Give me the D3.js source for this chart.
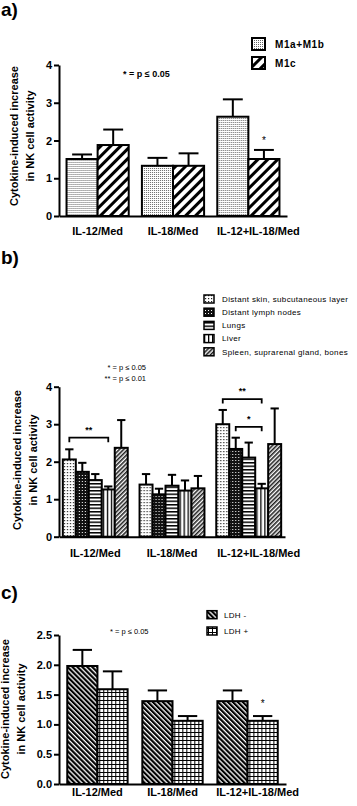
<!DOCTYPE html>
<html>
<head>
<meta charset="utf-8">
<script src="https://cdn.jsdelivr.net/npm/d3@7"></script>
<style>
  body { margin: 0; background: #fff; }
  text { font-family: "Liberation Sans", Arial, sans-serif; fill: #000; }
</style>
</head>
<body>
<script>
const groups = ["IL-12/Med", "IL-18/Med", "IL-12+IL-18/Med"];

// panel a: metastasis stage
const seriesA = ["M1a+M1b", "M1c"];
const m1abMean = [1.51, 1.33, 2.63];
const m1abSem = [0.12, 0.21, 0.46];
const m1cMean = [1.88, 1.33, 1.51];
const m1cSem = [0.41, 0.33, 0.24];

// panel b: metastasis site
const seriesB = ["Distant skin, subcutaneous layer", "Distant lymph nodes", "Lungs", "Liver", "Spleen, suprarenal gland, bones"];
const skinMean = [2.06, 1.39, 3.00];
const skinSem = [0.27, 0.28, 0.38];
const lymphMean = [1.73, 1.13, 2.34];
const lymphSem = [0.24, 0.15, 0.30];
const lungsMean = [1.51, 1.36, 2.11];
const lungsSem = [0.16, 0.29, 0.40];
const liverMean = [1.26, 1.23, 1.29];
const liverSem = [0.08, 0.27, 0.12];
const spleenMean = [2.37, 1.29, 2.47];
const spleenSem = [0.74, 0.33, 0.95];
const sigB = [
  { group: 0, from: 0, to: 3, level: 2.64, label: "**" },
  { group: 2, from: 0, to: 3, level: 3.67, label: "**" },
  { group: 2, from: 1, to: 3, level: 2.93, label: "*" }
];

// panel c: LDH
const seriesC = ["LDH -", "LDH +"];
const ldhNegMean = [1.98, 1.39, 1.39];
const ldhNegSem = [0.27, 0.18, 0.18];
const ldhPosMean = [1.59, 1.06, 1.06];
const ldhPosSem = [0.30, 0.08, 0.08];

const ticksAB = [0, 1, 2, 3, 4];
const ticksC = [0, 0.5, 1.0, 1.5, 2.0, 2.5];

const W = 357, H = 806;
const svg = d3.select("body").append("svg").attr("width", W).attr("height", H);
const defs = svg.append("defs");

function pattern(id, w, h, rot, draw) {
  const p = defs.append("pattern")
    .attr("id", id)
    .attr("patternUnits", "userSpaceOnUse")
    .attr("width", w).attr("height", h);
  if (rot) p.attr("patternTransform", `rotate(${rot})`);
  p.append("rect").attr("width", w).attr("height", h).attr("fill", "#fff");
  draw(p);
}
pattern("fineDots", 2, 2, 0, p => p.append("rect").attr("width", 1).attr("height", 1).attr("fill", "#666"));
pattern("wideSlash", 7, 7, 45, p => p.append("rect").attr("width", 3).attr("height", 7).attr("fill", "#000"));
pattern("sparseDots", 3, 3, 0, p => p.append("rect").attr("x", 1).attr("y", 1).attr("width", 1.2).attr("height", 1.2).attr("fill", "#222"));
pattern("darkDots", 3, 3, 0, p => {
  p.append("rect").attr("width", 3).attr("height", 3).attr("fill", "#111");
  p.append("rect").attr("x", 1).attr("y", 1).attr("width", 1).attr("height", 1).attr("fill", "#fff");
});
pattern("hLines", 4, 3.5, 0, p => p.append("rect").attr("width", 4).attr("height", 1.5).attr("fill", "#000"));
pattern("vLines", 4, 4, 0, p => p.append("rect").attr("width", 1.3).attr("height", 4).attr("fill", "#000"));
pattern("denseSlash", 3, 3, 45, p => p.append("rect").attr("width", 1.6).attr("height", 3).attr("fill", "#222"));
pattern("backSlash", 3.5, 3.5, -45, p => p.append("rect").attr("width", 2.2).attr("height", 3.5).attr("fill", "#000"));
pattern("grid", 4, 4, 0, p => {
  p.append("rect").attr("width", 4).attr("height", 1).attr("fill", "#000");
  p.append("rect").attr("width", 1).attr("height", 4).attr("fill", "#000");
});

function drawPanel(cfg) {
  const g = svg.append("g");
  const y = d3.scaleLinear().domain(cfg.yDomain).range(cfg.yRange);
  const x0 = d3.scaleBand().domain(groups).range(cfg.xRange)
    .paddingInner(cfg.padIn).paddingOuter(cfg.padOut);
  const x1 = d3.scaleBand().domain(cfg.series.map(s => s.name)).range([0, x0.bandwidth()]);

  // y axis
  const yAxis = g.append("g")
    .attr("transform", `translate(${cfg.xRange[0]},0)`)
    .call(d3.axisLeft(y).tickValues(cfg.ticks).tickFormat(cfg.tickFormat).tickSize(5).tickSizeOuter(0).tickPadding(2));
  yAxis.select(".domain").attr("stroke-width", 2);
  yAxis.selectAll(".tick line").attr("stroke-width", 2);
  yAxis.selectAll(".tick text").attr("font-size", 11).attr("font-weight", "bold").attr("fill", "#000")
    .attr("font-family", "Liberation Sans, Arial, sans-serif");

  // bars
  const rows = groups.map((grp, i) => cfg.series.map(s => ({
    grp, name: s.name, fill: s.fill, mean: s.mean[i], sem: s.sem[i]
  })));
  const gg = g.selectAll(".grp").data(rows).join("g")
    .attr("transform", (d, i) => `translate(${x0(groups[i])},0)`);
  gg.selectAll("line.err").data(d => d).join("line")
    .attr("class", "err")
    .attr("x1", d => x1(d.name) + x1.bandwidth() / 2)
    .attr("x2", d => x1(d.name) + x1.bandwidth() / 2)
    .attr("y1", d => y(d.mean))
    .attr("y2", d => y(d.mean + d.sem))
    .attr("stroke", "#000").attr("stroke-width", 2);
  gg.selectAll("line.cap").data(d => d).join("line")
    .attr("class", "cap")
    .attr("x1", d => x1(d.name) + x1.bandwidth() * 0.18)
    .attr("x2", d => x1(d.name) + x1.bandwidth() * 0.82)
    .attr("y1", d => y(d.mean + d.sem))
    .attr("y2", d => y(d.mean + d.sem))
    .attr("stroke", "#000").attr("stroke-width", 2);
  gg.selectAll("rect").data(d => d).join("rect")
    .attr("x", d => x1(d.name))
    .attr("y", d => y(d.mean))
    .attr("width", x1.bandwidth())
    .attr("height", d => y(0) - y(d.mean))
    .attr("fill", d => `url(#${d.fill})`)
    .attr("stroke", "#000").attr("stroke-width", 2);

  // x axis
  const xAxis = g.append("g")
    .attr("transform", `translate(0,${y(0)})`)
    .call(d3.axisBottom(x0).tickSize(0).tickSizeOuter(0).tickPadding(cfg.xPad));
  xAxis.select(".domain").attr("stroke-width", 2);
  xAxis.selectAll(".tick text").attr("font-size", 11).attr("font-weight", "bold").attr("fill", "#000")
    .attr("font-family", "Liberation Sans, Arial, sans-serif")
    .attr("dx", (d, i) => i === 2 ? 10 : 0);

  // single stars
  (cfg.stars || []).forEach(s => {
    const d = rows[s.group][s.series];
    g.append("text")
      .attr("x", x0(groups[s.group]) + x1(d.name) + x1.bandwidth() / 2)
      .attr("y", y(d.mean + d.sem) - s.gap)
      .attr("text-anchor", "middle").attr("font-size", 10).attr("fill", "#000")
      .text("*");
  });

  // brackets
  (cfg.brackets || []).forEach(b => {
    const xa = x0(groups[b.group]) + x1(cfg.series[b.from].name) + x1.bandwidth() / 2;
    const xb = x0(groups[b.group]) + x1(cfg.series[b.to].name) + x1.bandwidth() / 2;
    const yl = y(b.level), yd = y(b.level) + 4.5;
    g.append("path")
      .attr("d", `M${xa},${yd}V${yl}H${xb}V${yd}`)
      .attr("fill", "none").attr("stroke", "#000").attr("stroke-width", 1.8);
    g.append("text")
      .attr("x", (xa + xb) / 2).attr("y", yl - 5)
      .attr("text-anchor", "middle").attr("font-size", 9).attr("font-weight", "bold").attr("fill", "#000")
      .text(b.label);
  });

  // y label
  const yl = g.append("text")
    .attr("transform", `translate(${cfg.yLabelX},${cfg.yLabelY}) rotate(-90)`)
    .attr("text-anchor", "middle").attr("font-size", 11).attr("font-weight", "bold");
  yl.append("tspan").attr("x", 0).attr("y", 0).text("Cytokine-induced increase");
  yl.append("tspan").attr("x", 0).attr("y", 16).text("in NK cell activity");

  // panel letter
  g.append("text").attr("x", 1).attr("y", cfg.letterY)
    .attr("font-size", 19).attr("font-weight", "bold").text(cfg.letter);

  // legend
  const lg = g.append("g");
  cfg.series.forEach((s, i) => {
    const ly = cfg.legend.y + i * cfg.legend.step;
    lg.append("rect")
      .attr("x", cfg.legend.x).attr("y", ly)
      .attr("width", cfg.legend.w).attr("height", cfg.legend.h)
      .attr("fill", `url(#${s.fill})`).attr("stroke", "#000").attr("stroke-width", cfg.legend.sw);
    lg.append("text")
      .attr("x", cfg.legend.x + cfg.legend.tx).attr("y", ly + cfg.legend.h / 2 + cfg.legend.fs * 0.36)
      .attr("font-size", cfg.legend.fs).attr("font-weight", cfg.legend.bold ? "bold" : "normal")
      .attr("letter-spacing", cfg.legend.ls)
      .text(s.name);
  });

  // p-value notes
  cfg.notes.forEach(n => {
    g.append("text").attr("x", n.x).attr("y", n.y)
      .attr("text-anchor", n.anchor).attr("font-size", n.fs)
      .attr("font-weight", n.bold ? "bold" : "normal")
      .text(n.text);
  });
}

drawPanel({
  letter: "a)", letterY: 16,
  series: [
    { name: seriesA[0], mean: m1abMean, sem: m1abSem, fill: "fineDots" },
    { name: seriesA[1], mean: m1cMean, sem: m1cSem, fill: "wideSlash" }
  ],
  yDomain: [0, 4], yRange: [216, 65], ticks: ticksAB, tickFormat: d3.format("d"),
  xRange: [59, 287], padIn: 0.175, padOut: 0.1, xPad: 11,
  yLabelX: 18, yLabelY: 136,
  stars: [{ group: 2, series: 1, gap: 6 }],
  legend: { x: 252, y: 38, step: 19, w: 13, h: 12, sw: 2, tx: 23, fs: 10, bold: true, ls: 0.6 },
  notes: [{ x: 123, y: 77, anchor: "start", fs: 9, bold: true, text: "* = p \u2264 0.05" }]
});

drawPanel({
  letter: "b)", letterY: 264,
  series: [
    { name: seriesB[0], mean: skinMean, sem: skinSem, fill: "sparseDots" },
    { name: seriesB[1], mean: lymphMean, sem: lymphSem, fill: "darkDots" },
    { name: seriesB[2], mean: lungsMean, sem: lungsSem, fill: "hLines" },
    { name: seriesB[3], mean: liverMean, sem: liverSem, fill: "vLines" },
    { name: seriesB[4], mean: spleenMean, sem: spleenSem, fill: "denseSlash" }
  ],
  yDomain: [0, 4], yRange: [536.7, 386.7], ticks: ticksAB, tickFormat: d3.format("d"),
  xRange: [59, 285], padIn: 0.154, padOut: 0.05, xPad: 12.5,
  yLabelX: 21, yLabelY: 460,
  brackets: sigB,
  legend: { x: 204, y: 295, step: 13.2, w: 10, h: 8, sw: 1.5, tx: 18, fs: 8, bold: false, ls: 0.35 },
  notes: [
    { x: 146, y: 370, anchor: "end", fs: 7.5, bold: false, text: "* = p \u2264 0.05" },
    { x: 146, y: 381, anchor: "end", fs: 7.5, bold: false, text: "** = p \u2264 0.01" }
  ]
});

drawPanel({
  letter: "c)", letterY: 599,
  series: [
    { name: seriesC[0], mean: ldhNegMean, sem: ldhNegSem, fill: "backSlash" },
    { name: seriesC[1], mean: ldhPosMean, sem: ldhPosSem, fill: "grid" }
  ],
  yDomain: [0, 2.5], yRange: [784, 635], ticks: ticksC, tickFormat: d3.format(".1f"),
  xRange: [59, 286], padIn: 0.196, padOut: 0.11, xPad: 4,
  yLabelX: 9, yLabelY: 709,
  stars: [{ group: 2, series: 1, gap: 9 }],
  legend: { x: 207, y: 610.7, step: 16.3, w: 10, h: 8, sw: 1.5, tx: 17, fs: 8, bold: false, ls: 0.3 },
  notes: [{ x: 110, y: 634, anchor: "start", fs: 7.5, bold: false, text: "* = p \u2264 0.05" }]
});
</script>
</body>
</html>
